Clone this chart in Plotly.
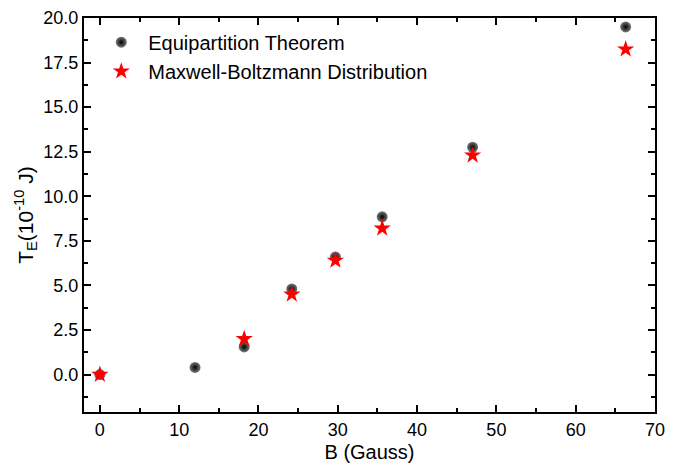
import plotly.graph_objects as go

b_eq = [0, 12.0, 18.2, 24.2, 29.7, 35.6, 47.0, 66.3]
t_eq = [0.0, 0.4, 1.55, 4.8, 6.6, 8.85, 12.75, 19.5]
b_mb = [0, 18.2, 24.2, 29.7, 35.6, 47.0, 66.3]
t_mb = [0.0, 2.0, 4.5, 6.4, 8.2, 12.3, 18.25]

FONT = "Liberation Sans, Arial"

fig = go.Figure()
fig.add_trace(go.Scatter(
    x=b_eq, y=t_eq, mode="markers", name="Equipartition Theorem",
    marker=dict(symbol="circle", size=11, color="#7a7a7a",
                gradient=dict(type="radial", color="black"), line=dict(width=0))))
fig.add_trace(go.Scatter(
    x=b_mb, y=t_mb, mode="markers", name="Maxwell-Boltzmann Distribution",
    marker=dict(symbol="star", size=13, color="red", line=dict(width=0))))

axis_common = dict(showline=True, linecolor="black", linewidth=2, mirror="ticks",
                   ticks="inside", ticklen=7, tickwidth=2, tickcolor="black",
                   showgrid=False, zeroline=False, automargin=False,
                   tickfont=dict(family=FONT, size=18, color="black"))
fig.update_xaxes(range=[-2, 70], dtick=10, tick0=0, ticklabelstandoff=0,
                 minor=dict(dtick=5, ticks="inside", ticklen=4, tickwidth=2, tickcolor="black"),
                 title=dict(text="B (Gauss)", font=dict(family=FONT, size=20, color="black")),
                 **axis_common)
fig.update_yaxes(range=[-2.1, 20], dtick=2.5, tick0=0, tickformat=".1f",
                 minor=dict(dtick=1.25, ticks="inside", ticklen=4, tickwidth=2, tickcolor="black"),
                 title=dict(text="T<sub>E</sub>(10<sup>-10</sup> J)",
                            font=dict(family=FONT, size=21, color="black"), standoff=4),
                 **axis_common)
fig.update_layout(
    width=685, height=463, margin=dict(l=84, r=30, t=18, b=51),
    paper_bgcolor="white", plot_bgcolor="white",
    showlegend=True,
    legend=dict(x=0.018, y=0.988, xanchor="left", yanchor="top", bgcolor="rgba(0,0,0,0)",
                font=dict(family=FONT, size=20, color="black"),
                itemwidth=44, tracegroupgap=0),
)
fig.write_html("out.html")
